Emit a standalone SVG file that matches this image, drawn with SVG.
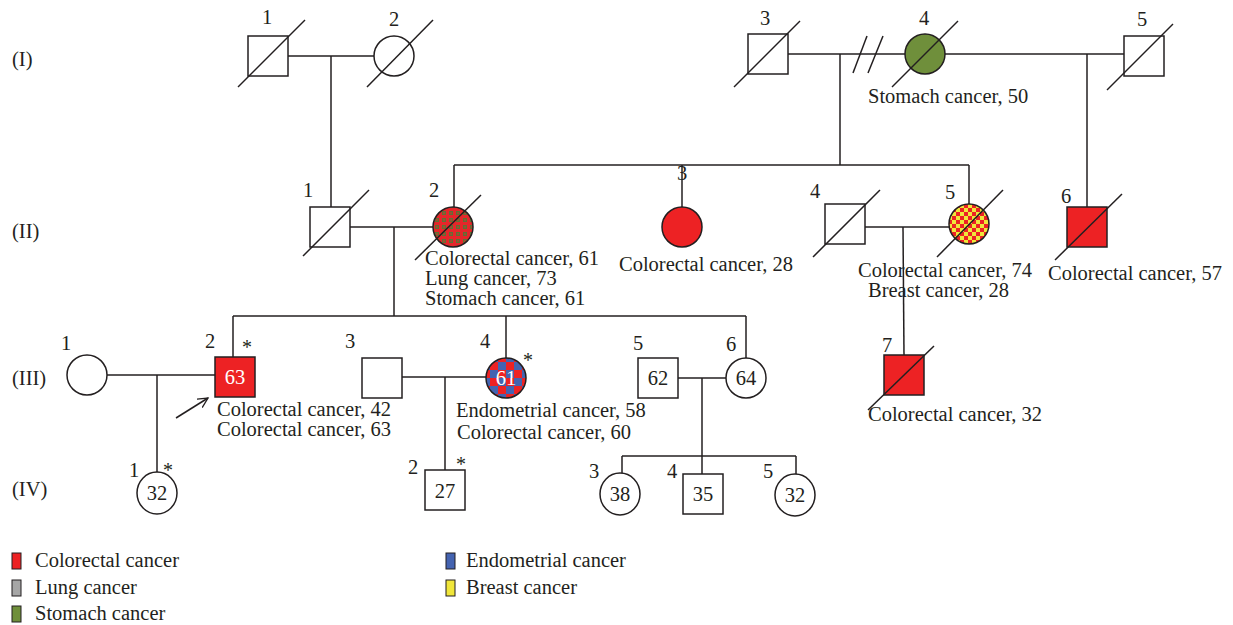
<svg xmlns="http://www.w3.org/2000/svg" width="1233" height="625" viewBox="0 0 1233 625">
<style>
text{font-family:"Liberation Serif","Times New Roman",serif;font-size:20.5px;fill:#231f20}
.ast{font-size:20px}
.w{fill:#ffffff}
.ln{stroke:#231f20;stroke-width:1.5;fill:none}
.sh{stroke:#231f20;stroke-width:1.5;fill:#ffffff}
.red{stroke:#231f20;stroke-width:1.5;fill:#ed2224}
.grn{stroke:#231f20;stroke-width:1.5;fill:#6f8f3b}
.sl{stroke:#231f20;stroke-width:1.5}
.lg{stroke:#231f20;stroke-width:1}
</style>
<defs>
<pattern id="pRG" patternUnits="userSpaceOnUse" width="7" height="7">
<rect width="7" height="7" fill="#e5262a"/>
<rect x="1" y="1" width="4" height="4" fill="#5f7034"/>
<rect x="2.5" y="2" width="1" height="2" fill="#e5262a"/>
</pattern>
<pattern id="pRY" patternUnits="userSpaceOnUse" width="8" height="8">
<rect width="8" height="8" fill="#f0e63a"/>
<rect width="4" height="4" fill="#ed2224"/>
<rect x="4" y="4" width="4" height="4" fill="#ed2224"/>
</pattern>
<pattern id="pRB" patternUnits="userSpaceOnUse" width="16" height="16" x="2" y="2">
<rect width="16" height="16" fill="#4463b0"/>
<rect width="8" height="8" fill="#ed2224"/>
<rect x="8" y="8" width="8" height="8" fill="#ed2224"/>
</pattern>
<marker id="arr" markerWidth="12" markerHeight="12" refX="10" refY="6" orient="auto" markerUnits="userSpaceOnUse">
<path d="M0,1 L10,6 L0,11" fill="none" stroke="#231f20" stroke-width="1.3"/>
</marker>
</defs>
<rect width="1233" height="625" fill="#ffffff"/>

<g id="generation-labels">
<text x="12" y="66">(I)</text>
<text x="12" y="238">(II)</text>
<text x="12" y="385">(III)</text>
<text x="12" y="496">(IV)</text>
</g>

<g id="connectors">
<line class="ln" x1="288" y1="56" x2="374" y2="56"/>
<line class="ln" x1="331" y1="56" x2="331" y2="207"/>
<line class="ln" x1="788" y1="54" x2="905" y2="54"/>
<line class="ln" x1="853" y1="73" x2="867" y2="36"/>
<line class="ln" x1="868" y1="73" x2="883" y2="36"/>
<line class="ln" x1="840" y1="54" x2="840" y2="165"/>
<line class="ln" x1="945" y1="54" x2="1124" y2="54"/>
<line class="ln" x1="1087" y1="54" x2="1087" y2="207"/>
<line class="ln" x1="454" y1="165" x2="969" y2="165"/>
<line class="ln" x1="454" y1="165" x2="454" y2="207"/>
<line class="ln" x1="682" y1="165" x2="682" y2="207"/>
<line class="ln" x1="969" y1="165" x2="969" y2="204"/>
<line class="ln" x1="350" y1="227" x2="433" y2="227"/>
<line class="ln" x1="394" y1="227" x2="394" y2="316"/>
<line class="ln" x1="865" y1="227" x2="949" y2="227"/>
<line class="ln" x1="903" y1="227" x2="904" y2="355"/>
<line class="ln" x1="233" y1="316" x2="746" y2="316"/>
<line class="ln" x1="233" y1="316" x2="233" y2="357"/>
<line class="ln" x1="506" y1="316" x2="506" y2="358"/>
<line class="ln" x1="746" y1="316" x2="746" y2="358"/>
<line class="ln" x1="107" y1="375" x2="215" y2="375"/>
<line class="ln" x1="157" y1="375" x2="157" y2="472"/>
<line class="ln" x1="402" y1="377" x2="486" y2="377"/>
<line class="ln" x1="445" y1="377" x2="445" y2="470"/>
<line class="ln" x1="678" y1="378" x2="726" y2="378"/>
<line class="ln" x1="702" y1="378" x2="702" y2="474"/>
<line class="ln" x1="622" y1="456" x2="796" y2="456"/>
<line class="ln" x1="622" y1="456" x2="622" y2="473"/>
<line class="ln" x1="796" y1="456" x2="796" y2="474"/>
<line class="ln" x1="176" y1="418" x2="208" y2="398" marker-end="url(#arr)"/>
</g>

<g id="I-1">
<rect class="sh" x="248" y="36" width="40" height="40"/>
<line class="sl" x1="238" y1="87" x2="305" y2="20"/>
<text x="262" y="24">1</text>
</g>
<g id="I-2">
<circle class="sh" cx="394" cy="56" r="20"/>
<line class="sl" x1="367" y1="87" x2="433" y2="20"/>
<text x="389" y="26">2</text>
</g>
<g id="I-3">
<rect class="sh" x="748" y="34" width="40" height="40"/>
<line class="sl" x1="734" y1="87" x2="800" y2="21"/>
<text x="760" y="25">3</text>
</g>
<g id="I-4">
<circle class="grn" cx="925" cy="54" r="20"/>
<line class="sl" x1="892" y1="87" x2="958" y2="21"/>
<text x="919" y="25">4</text>
<text x="868" y="103">Stomach cancer, 50</text>
</g>
<g id="I-5">
<rect class="sh" x="1124" y="36" width="40" height="40"/>
<line class="sl" x1="1107" y1="90" x2="1173" y2="24"/>
<text x="1137" y="26">5</text>
</g>

<g id="II-1">
<rect class="sh" x="310" y="207" width="40" height="40"/>
<line class="sl" x1="303" y1="256" x2="369" y2="190"/>
<text x="303" y="197">1</text>
</g>
<g id="II-2">
<circle cx="453" cy="227" r="20" fill="url(#pRG)" stroke="#231f20" stroke-width="1.5"/>
<line class="sl" x1="415" y1="260" x2="481" y2="195"/>
<text x="429" y="197">2</text>
<text x="425" y="265">Colorectal cancer, 61</text>
<text x="425" y="285">Lung cancer, 73</text>
<text x="425" y="305">Stomach cancer, 61</text>
</g>
<g id="II-3">
<circle class="red" cx="682" cy="227" r="20"/>
<text x="677" y="180">3</text>
<text x="619" y="271">Colorectal cancer, 28</text>
</g>
<g id="II-4">
<rect class="sh" x="825" y="204" width="40" height="40"/>
<line class="sl" x1="813" y1="257" x2="880" y2="190"/>
<text x="810" y="198">4</text>
</g>
<g id="II-5">
<circle cx="969" cy="224" r="20" fill="url(#pRY)" stroke="#231f20" stroke-width="1.5"/>
<line class="sl" x1="937" y1="257" x2="1003" y2="190"/>
<text x="945" y="199">5</text>
<text x="858" y="277">Colorectal cancer, 74</text>
<text x="868" y="297">Breast cancer, 28</text>
</g>
<g id="II-6">
<rect class="red" x="1067" y="207" width="40" height="40"/>
<line class="sl" x1="1055" y1="260" x2="1122" y2="194"/>
<text x="1061" y="203">6</text>
<text x="1048" y="280">Colorectal cancer, 57</text>
</g>

<g id="III-1">
<circle class="sh" cx="87" cy="375" r="20"/>
<text x="61" y="350">1</text>
</g>
<g id="III-2">
<rect class="red" x="215" y="357" width="40" height="40"/>
<text class="w" x="235" y="384" text-anchor="middle">63</text>
<text x="205" y="348">2</text>
<text class="ast" x="242" y="354">*</text>
<text x="217" y="416">Colorectal cancer, 42</text>
<text x="217" y="436">Colorectal cancer, 63</text>
</g>
<g id="III-3">
<rect class="sh" x="362" y="358" width="40" height="40"/>
<text x="345" y="348">3</text>
</g>
<g id="III-4">
<circle cx="506" cy="378" r="20" fill="url(#pRB)" stroke="#231f20" stroke-width="1.5"/>
<text class="w" x="506" y="385" text-anchor="middle">61</text>
<text x="480" y="348">4</text>
<text class="ast" x="523" y="367">*</text>
<text x="456" y="417">Endometrial cancer, 58</text>
<text x="457" y="439">Colorectal cancer, 60</text>
</g>
<g id="III-5">
<rect class="sh" x="638" y="358" width="40" height="40"/>
<text x="658" y="385" text-anchor="middle">62</text>
<text x="633" y="350">5</text>
</g>
<g id="III-6">
<circle class="sh" cx="746" cy="378" r="20"/>
<text x="746" y="385" text-anchor="middle">64</text>
<text x="726" y="351">6</text>
</g>
<g id="III-7">
<rect class="red" x="884" y="355" width="40" height="40"/>
<line class="sl" x1="868" y1="410" x2="934" y2="346"/>
<text x="882" y="352">7</text>
<text x="868" y="421">Colorectal cancer, 32</text>
</g>

<g id="IV-1">
<ellipse class="sh" cx="157" cy="493" rx="20" ry="21"/>
<text x="157" y="500" text-anchor="middle">32</text>
<text x="129" y="477">1</text>
<text class="ast" x="163" y="477">*</text>
</g>
<g id="IV-2">
<rect class="sh" x="425" y="470" width="40" height="40"/>
<text x="445" y="498" text-anchor="middle">27</text>
<text x="408" y="474">2</text>
<text class="ast" x="456" y="471">*</text>
</g>
<g id="IV-3">
<ellipse class="sh" cx="620" cy="494" rx="20" ry="21"/>
<text x="620" y="501" text-anchor="middle">38</text>
<text x="589" y="478">3</text>
</g>
<g id="IV-4">
<rect class="sh" x="683" y="474" width="40" height="40"/>
<text x="703" y="501" text-anchor="middle">35</text>
<text x="667" y="478">4</text>
</g>
<g id="IV-5">
<ellipse class="sh" cx="795" cy="495" rx="20" ry="21"/>
<text x="795" y="502" text-anchor="middle">32</text>
<text x="763" y="478">5</text>
</g>

<g id="legend">
<rect class="lg" x="12" y="553" width="9" height="16" fill="#ed2224"/>
<text x="35" y="567">Colorectal cancer</text>
<rect class="lg" x="12" y="580" width="9" height="16" fill="#a6a6a6"/>
<text x="35" y="594">Lung cancer</text>
<rect class="lg" x="12" y="606" width="9" height="16" fill="#6f8f3b"/>
<text x="35" y="620">Stomach cancer</text>
<rect class="lg" x="446" y="553" width="9" height="16" fill="#4463b0"/>
<text x="466" y="567">Endometrial cancer</text>
<rect class="lg" x="446" y="580" width="9" height="16" fill="#f0e63a"/>
<text x="466" y="594">Breast cancer</text>
</g>
</svg>
